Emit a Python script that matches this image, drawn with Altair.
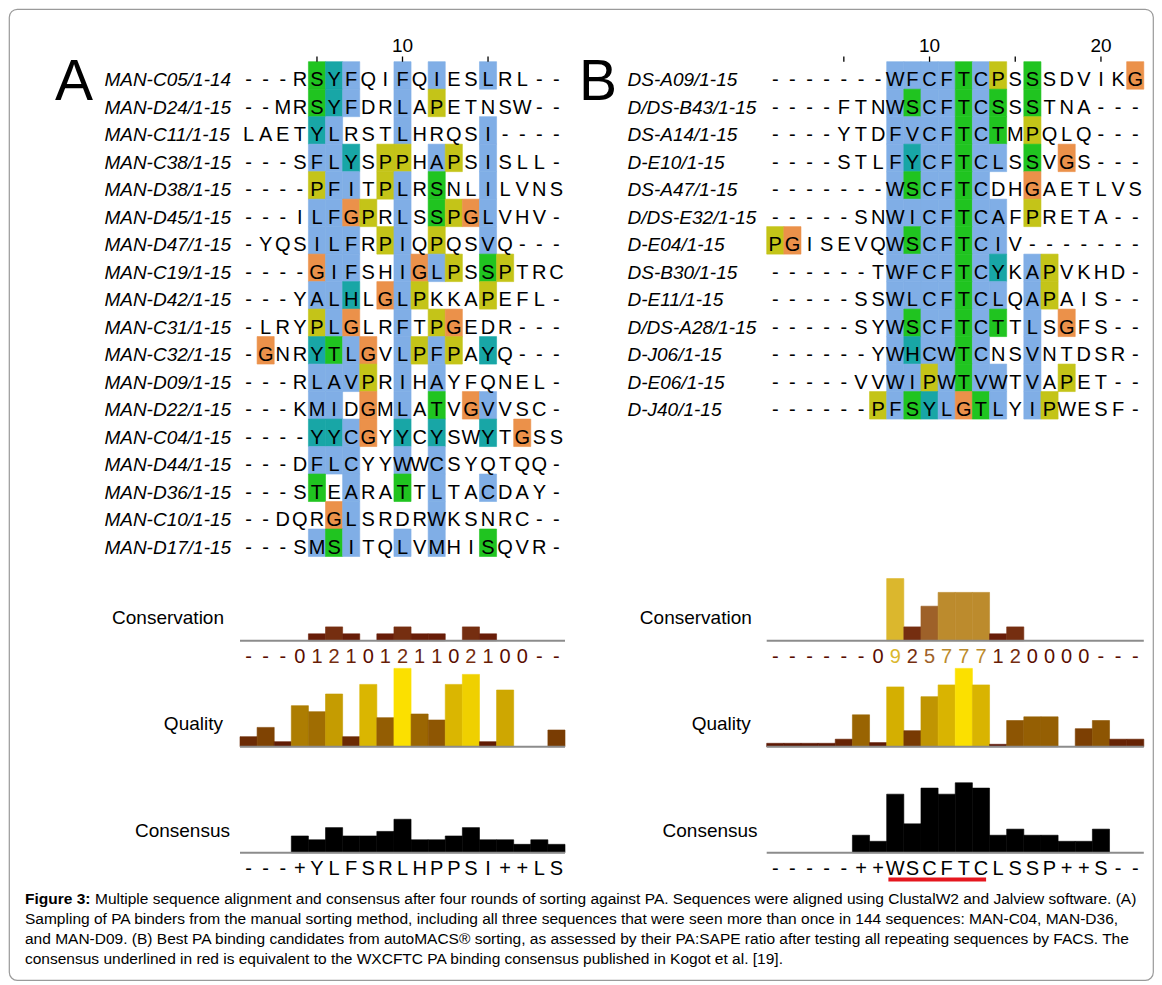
import altair as alt
import pandas as pd

# ------------------------------------------------------------------ data
names_a = ["MAN-C05/1-14", "MAN-D24/1-15", "MAN-C11/1-15", "MAN-C38/1-15", "MAN-D38/1-15",
           "MAN-D45/1-15", "MAN-D47/1-15", "MAN-C19/1-15", "MAN-D42/1-15", "MAN-C31/1-15",
           "MAN-C32/1-15", "MAN-D09/1-15", "MAN-D22/1-15", "MAN-C04/1-15", "MAN-D44/1-15",
           "MAN-D36/1-15", "MAN-C10/1-15", "MAN-D17/1-15"]
seqs_a = ["---RSYFQIFQIESLRL--", "--MRSYFDRLAPETNSW--", "LAETYLRSTLHRQSI----",
          "---SFLYSPPHAPSISLL-", "----PFITPLRSNLILVNS", "---ILFGPRLSSPGLVHV-",
          "-YQSILFRPIQPQSVQ---", "----GIFSHIGLPSSPTRC", "---YALHLGLPKKAPEFL-",
          "-LRYPLGLRFTPGEDR---", "-GNRYTLGVLPFPAYQ---", "---RLAVPRIHAYFQNEL-",
          "---KMIDGMLATVGVVSC-", "----YYCGYYCYSWYTGSS", "---DFLCYYWWCSYQTQQ-",
          "---STEARATTLTACDAY-", "--DQRGLSRDRWKSNRC--", "---SMSITQLVMHISQVR-"]
# Clustal colour class of each residue: b hydrophobic, g S/T, c Y/H, y P, o G, . none
classes_a = ["....gcb..b.b..b....", "....gcb..b.y.......", "....cb...b....b....",
             "....bbc.yy.by.b....", "....ybb.yb.g..b....", "....bboy.b.gyob....",
             "....bbb.yb.y..b....", "....obb..boby.gy...", "....bbc.oby...y....",
             "....ybo..b.yo......", ".o..cgbo.byby.c....", "....bbby.b.b.......",
             "....bb.o.b.g.ob....", "....ccbo.c.c..c.o..", "....bbb..b.b.......",
             "....g.b..g.b..b....", ".....ob....b.......", "....bgb..b.b..g...."]

names_b = ["DS-A09/1-15", "D/DS-B43/1-15", "DS-A14/1-15", "D-E10/1-15", "DS-A47/1-15",
           "D/DS-E32/1-15", "D-E04/1-15", "DS-B30/1-15", "D-E11/1-15", "D/DS-A28/1-15",
           "D-J06/1-15", "D-E06/1-15", "D-J40/1-15"]
seqs_b = ["-------WFCFTCPSSSDVIKG", "----FTNWSCFTCSSSTNA---", "----YTDFVCFTCTMPQLQ---",
          "----STLFYCFTCLSSVGS---", "-------WSCFTCDHGAETLVS", "-----SNWICFTCAFPRETA--",
          "PGISEVQWSCFTCIV-------", "------TWFCFTCYKAPVKHD-", "-----SSWLCFTCLQAPAIS--",
          "-----SYWSCFTCTTLSGFS--", "------YWHCWTCNSVNTDSR-", "-----VVWIPWTVWTVAPET--",
          "------PFSYLGTLYIPWESF-"]
classes_b = [".......bbbbgby.g.....o", ".......bgbbgbg.g......", ".......bbbbgbg.y......",
             ".......bcbbgbb.g.o....", ".......bgbbgb..o......", ".......bbbbgbb.y......",
             "yo.....bgbbgbb........", ".......bbbbgbc.by.....", ".......bbbbgbb.by.....",
             ".......bgbbgbg.b.o....", ".......bcbbgb..b......", ".......bbybgbb.b.y....",
             "......ybgcbogb.by....."]

ruler_a = [5, 10, 15]
ruler_b = [5, 10, 15, 20]

conservation_a = ["-", "-", "-", "0", "1", "2", "1", "0", "1", "2", "1", "1", "0", "2", "1", "0", "0", "-", "-"]
conservation_b = ["-", "-", "-", "-", "-", "-", "0", "9", "2", "5", "7", "7", "7", "1", "2", "0", "0", "0", "0", "-", "-", "-"]
quality_a = [10, 19.3, 5, 41, 35, 52.7, 10, 62.3, 29, 78.3, 32.7, 26.7, 62.3, 72.3, 5, 56.7, 0, 0, 16.7]
quality_b = [3.4, 3.4, 3.4, 3.4, 7.5, 31.9, 4.1, 59.8, 16, 50, 61.8, 78.3, 61.8, 2.4, 26.2, 29.9, 29.9, 0, 18, 26.2, 7.5, 7.5]
consensus_pct_a = [0, 0, 0, 22, 17, 33, 22, 22, 28, 44, 17, 17, 22, 33, 17, 17, 11, 17, 11]
consensus_pct_b = [0, 0, 0, 0, 0, 23, 15, 77, 38, 85, 77, 92, 85, 23, 31, 23, 23, 15, 15, 31, 0, 0]
consensus_a = ["-", "-", "-", "+", "Y", "L", "F", "S", "R", "L", "H", "P", "P", "S", "I", "+", "+", "L", "S"]
consensus_b = ["-", "-", "-", "-", "-", "+", "+", "W", "S", "C", "F", "T", "C", "L", "S", "S", "P", "+", "+", "S", "-", "-"]
underline_b = [7, 12]  # first/last column of the WXCFTC motif

track_titles = ["Conservation", "Quality", "Consensus"]
caption_bold = "Figure 3:"
caption_lines = [
    "Multiple sequence alignment and consensus after four rounds of sorting against PA. Sequences were aligned using ClustalW2 and Jalview software. (A)",
    "Sampling of PA binders from the manual sorting method, including all three sequences that were seen more than once in 144 sequences: MAN-C04, MAN-D36,",
    "and MAN-D09. (B) Best PA binding candidates from autoMACS\u00ae sorting, as assessed by their PA:SAPE ratio after testing all repeating sequences by FACS. The",
    "consensus underlined in red is equivalent to the WXCFTC PA binding consensus published in Kogot et al. [19].",
]

# ------------------------------------------------------------------ layout / style
OX, OY = 9, 9            # page position of the framed view
W, H = 1144, 971
FONT = "Liberation Sans, Arial, sans-serif"
CAP_FONT = "Liberation Sans, Arial, sans-serif"
CAP_SIZE = 15.5
ROW_EDGES = (61.7, 556.5)
CLUSTAL = alt.Scale(domain=["b", "g", "c", "y", "o"],
                    range=["#80aee6", "#20c420", "#18a6a6", "#c4c418", "#eb914a"])
CONS_COL = alt.Scale(domain=[0, 5.5, 11], range=["#5a0c00", "#a5692d", "#fae42d"], interpolate="rgb")
QUAL_COL = alt.Scale(domain=[0, 80], range=["#560f04", "#ffe500"], interpolate="rgb")
CONS_BASE, CONS_PX = 640.7, 6.9
QUAL_BASE, QUAL_PX = 746.7, 1.0
CSUS_BASE, CSUS_PX = 852.7, 0.76


def lin(d0, d1, r0, r1):
    return alt.Scale(domain=[d0, d1], range=[r0, r1], nice=False, zero=False)


def panel(names, seqs, classes, ruler, cons, qual, cpct, cres, col_edges, name_x,
          letter_x, title_right):
    n = len(seqs[0])
    xs = lin(-0.5, n - 0.5, col_edges[0] - OX, col_edges[1] - OX)
    ys = lin(-0.5, 17.5, ROW_EDGES[0] - OY, ROW_EDGES[1] - OY)
    recs = []
    for r, (s, c) in enumerate(zip(seqs, classes)):
        for k, (ch, cl) in enumerate(zip(s, c)):
            recs.append({"row": r, "col": k, "res": ch, "cls": cl})
    df = pd.DataFrame(recs)
    L = []
    # coloured cells
    L.append(alt.Chart(df).transform_filter("datum.cls != '.'").transform_calculate(
        c0="datum.col - 0.5", c1="datum.col + 0.5", r0="datum.row - 0.5", r1="datum.row + 0.5"
    ).mark_rect(strokeWidth=0.6).encode(
        x=alt.X("c0:Q", scale=xs, axis=None), x2="c1:Q",
        y=alt.Y("r0:Q", scale=ys, axis=None), y2="r1:Q",
        color=alt.Color("cls:N", scale=CLUSTAL, legend=None),
        stroke=alt.Stroke("cls:N", scale=CLUSTAL, legend=None)))
    # residues
    L.append(alt.Chart(df).mark_text(font=FONT, fontSize=20, baseline="alphabetic", dy=11,
                                     color="black").encode(
        x=alt.X("col:Q", scale=xs, axis=None), y=alt.Y("row:Q", scale=ys, axis=None),
        text="res:N"))
    # sequence names
    ndf = pd.DataFrame({"name": names, "row": list(range(len(names)))})
    L.append(alt.Chart(ndf).mark_text(font=FONT, fontSize=19, fontStyle="italic", align="left",
                                      baseline="alphabetic", dy=11, color="black").encode(
        x=alt.value(name_x - OX), y=alt.Y("row:Q", scale=ys, axis=None), text="name:N"))
    # ruler
    rdf = pd.DataFrame({"pos": ruler})
    L.append(alt.Chart(rdf).transform_calculate(col="datum.pos - 1").mark_rule(
        color="black", strokeWidth=1.3).encode(
        x=alt.X("col:Q", scale=xs, axis=None), y=alt.value(56.5 - OY), y2=alt.value(61.8 - OY)))
    L.append(alt.Chart(rdf).transform_filter("datum.pos % 10 == 0").transform_calculate(
        col="datum.pos - 1").mark_text(font=FONT, fontSize=19, baseline="alphabetic").encode(
        x=alt.X("col:Q", scale=xs, axis=None), y=alt.value(52 - OY), text="pos:Q"))
    # panel letter
    L.append(alt.Chart(pd.DataFrame({"t": [letter_x[1]]})).mark_text(
        font=FONT, fontSize=57, align="left", baseline="alphabetic").encode(
        x=alt.value(letter_x[0] - OX), y=alt.value(99.7 - OY), text="t:N"))

    tdf = pd.DataFrame({"col": list(range(n)), "cons": cons, "qual": qual,
                        "cpct": cpct, "cres": cres})
    base = alt.Chart(tdf).transform_calculate(
        c0="datum.col - 0.5", c1="datum.col + 0.5", z="0",
        cval="datum.cons == '-' ? 0 : toNumber(datum.cons)")
    ysc = lin(0, 11, CONS_BASE - OY, CONS_BASE - OY - 11 * CONS_PX)
    ysq = lin(0, 80, QUAL_BASE - OY, QUAL_BASE - OY - 80 * QUAL_PX)
    ysu = lin(0, 100, CSUS_BASE - OY, CSUS_BASE - OY - 100 * CSUS_PX)
    # conservation
    L.append(base.transform_filter("datum.cval > 0").mark_rect(strokeWidth=0.6).encode(
        x=alt.X("c0:Q", scale=xs, axis=None), x2="c1:Q",
        y=alt.Y("cval:Q", scale=ysc, axis=None), y2="z:Q",
        color=alt.Color("cval:Q", scale=CONS_COL, legend=None),
        stroke=alt.Stroke("cval:Q", scale=CONS_COL, legend=None)))
    L.append(base.mark_text(font=FONT, fontSize=20, baseline="alphabetic").encode(
        x=alt.X("col:Q", scale=xs, axis=None), y=alt.value(663 - OY), text="cons:N",
        color=alt.Color("cval:Q", scale=CONS_COL, legend=None)))
    # quality
    L.append(base.transform_filter("datum.qual > 0").mark_rect(strokeWidth=0.6).encode(
        x=alt.X("c0:Q", scale=xs, axis=None), x2="c1:Q",
        y=alt.Y("qual:Q", scale=ysq, axis=None), y2="z:Q",
        color=alt.Color("qual:Q", scale=QUAL_COL, legend=None),
        stroke=alt.Stroke("qual:Q", scale=QUAL_COL, legend=None)))
    # consensus
    L.append(base.transform_filter("datum.cpct > 0").mark_rect(
        color="black", stroke="black", strokeWidth=0.6).encode(
        x=alt.X("c0:Q", scale=xs, axis=None), x2="c1:Q",
        y=alt.Y("cpct:Q", scale=ysu, axis=None), y2="z:Q"))
    L.append(base.mark_text(font=FONT, fontSize=20, baseline="alphabetic", color="black").encode(
        x=alt.X("col:Q", scale=xs, axis=None), y=alt.value(875 - OY), text="cres:N"))
    # track base lines
    one = alt.Chart(pd.DataFrame({"k": [0]})).transform_calculate(
        c0="-0.5", c1=str(n - 0.5), z="0")
    for sc in (ysc, ysq, ysu):
        L.append(one.mark_rule(color="#8c8c8c", strokeWidth=2).encode(
            x=alt.X("c0:Q", scale=xs, axis=None), x2="c1:Q",
            y=alt.Y("z:Q", scale=sc, axis=None)))
    # track titles
    for t, ybase, xr in zip(track_titles, (624, 729.5, 836.5), title_right):
        L.append(alt.Chart(pd.DataFrame({"t": [t]})).mark_text(
            font=FONT, fontSize=19, align="right", baseline="alphabetic").encode(
            x=alt.value(xr - OX), y=alt.value(ybase - OY), text="t:N"))
    return L, xs, ysu


layers_a, _, _ = panel(names_a, seqs_a, classes_a, ruler_a, conservation_a, quality_a,
                       consensus_pct_a, consensus_a, (240.0, 565.0), 104.4, (55, "A"),
                       (224, 223, 230))
layers_b, xs_b, ysu_b = panel(names_b, seqs_b, classes_b, ruler_b, conservation_b, quality_b,
                              consensus_pct_b, consensus_b, (766.7, 1143.8), 627.5, (579, "B"),
                              (751.8, 750.8, 757.6))

# red underline of the WXCFTC consensus
under = alt.Chart(pd.DataFrame({"c0": [underline_b[0]], "c1": [underline_b[1]]})).transform_calculate(
    a="datum.c0 - 0.4", b="datum.c1 + 0.3").mark_rule(color="#e5161e", strokeWidth=4).encode(
    x=alt.X("a:Q", scale=xs_b, axis=None), x2="b:Q", y=alt.value(879.5 - OY))

# caption
cap_df = pd.DataFrame({"line": list(range(len(caption_lines))), "t": caption_lines})
cap_y = lin(0, 3, 904 - OY, 964 - OY)
cap_bold = alt.Chart(pd.DataFrame({"line": [0], "t": [caption_bold]})).mark_text(
    font=CAP_FONT, fontSize=CAP_SIZE, fontWeight="bold", align="left", baseline="alphabetic").encode(
    x=alt.value(25 - OX), y=alt.Y("line:Q", scale=cap_y, axis=None), text="t:N")
cap_first = alt.Chart(cap_df).transform_filter("datum.line == 0").mark_text(
    font=CAP_FONT, fontSize=CAP_SIZE, align="left", baseline="alphabetic").encode(
    x=alt.value(95 - OX), y=alt.Y("line:Q", scale=cap_y, axis=None), text="t:N")
cap_rest = alt.Chart(cap_df).transform_filter("datum.line > 0").mark_text(
    font=CAP_FONT, fontSize=CAP_SIZE, align="left", baseline="alphabetic").encode(
    x=alt.value(25 - OX), y=alt.Y("line:Q", scale=cap_y, axis=None), text="t:N")

chart = alt.layer(*layers_a, *layers_b, under, cap_bold, cap_first, cap_rest).resolve_scale(
    x="independent", y="independent", color="independent", stroke="independent"
).properties(
    width=W, height=H, padding={"left": 1, "top": 1, "right": 1, "bottom": 1},
    autosize=alt.AutoSizeParams(type="none")
).configure_view(stroke="#9a9a9a", strokeWidth=1.2, cornerRadius=8)

chart.save("out.html", embed_options={"renderer": "svg", "actions": False})
